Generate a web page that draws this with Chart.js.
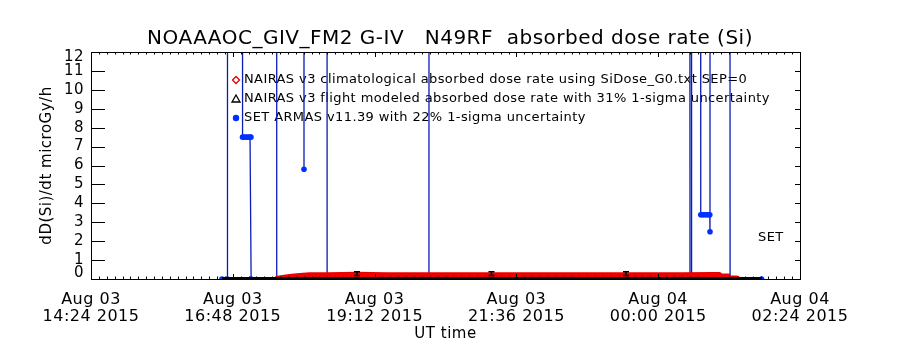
<!DOCTYPE html>
<html><head><meta charset="utf-8">
<script src="https://cdn.jsdelivr.net/npm/chart.js@4/dist/chart.umd.min.js"></script>
<style>html,body{margin:0;padding:0;background:#fff}canvas{display:block}</style>
</head><body>
<canvas id="c" width="900" height="350" style="width:900px;height:350px"></canvas>
<script>
// ---- data (x = minutes after Aug 03 14:24 UT) ----
const TITLE = 'NOAAAOC_GIV_FM2 G-IV   N49RF  absorbed dose rate (Si)';
const Y_TITLE = 'dD(Si)/dt microGy/h';
const X_TITLE = 'UT time';
const X_TICKS = [0, 144, 288, 432, 576, 720];
const X_TICK_DATES = ['Aug 03', 'Aug 03', 'Aug 03', 'Aug 03', 'Aug 04', 'Aug 04'];
const X_TICK_TIMES = ['14:24 2015', '16:48 2015', '19:12 2015', '21:36 2015', '00:00 2015', '02:24 2015'];
const Y_TICKS = [0,1,2,3,4,5,6,7,8,9,10,11,12];
const LEGEND_TEXT = [
  'NAIRAS v3 climatological absorbed dose rate using SiDose_G0.txt SEP=0',
  'NAIRAS v3 flight modeled absorbed dose rate with 31% 1-sigma uncertainty',
  'SET ARMAS v11.39 with 22% 1-sigma uncertainty'
];
const SIDE_LABEL = 'SET';

// SET ARMAS (values above 12 run off the top of the plot)
const ARMAS_T = [133, 138.5, 138.6, 153.8, 153.9, 155.5, 157.5, 159.5, 161.5, 162.4, 162.6, 188.5, 188.6,
                 216.2, 216.3, 216.4, 239.6, 239.8, 343.2, 343.3, 608.0, 608.3, 609.6, 609.9,
                 619.0, 619.2, 621.0, 623.0, 625.0, 627.0, 628.4, 628.6, 628.7, 648.8, 649.0, 681];
const ARMAS_V = [0, 0, 40, 40, 7.5, 7.5, 7.5, 7.5, 7.5, 7.5, 0, 0, 40,
                 40, 5.8, 40, 40, 0, 0, 40, 40, 0, 0, 40,
                 40, 3.4, 3.4, 3.4, 3.4, 3.4, 3.4, 2.5, 40, 40, 0, 0];

// NAIRAS climatological
const CLIM_T = [188, 193, 198, 204, 212, 222, 240, 270, 300, 350, 400, 450, 500, 550, 600, 630, 638, 640, 647, 648, 655, 658];
const CLIM_V = [0.03, 0.07, 0.11, 0.15, 0.18, 0.22, 0.23, 0.25, 0.23, 0.23, 0.23, 0.23, 0.23, 0.23, 0.23, 0.24, 0.24, 0.16, 0.16, 0.06, 0.05, 0.03];

// NAIRAS flight modeled
const FLT_T = [133, 681];
const FLT_V = [0.03, 0.03];
const ERR_T = [270.1, 406.7, 543.3];
const ERR_V = [0.28, 0.28, 0.28];
const ERR_S = [0.1, 0.1, 0.1];

const FONT = 'DejaVu Sans';
const pts = (t, v) => t.map((x, i) => ({x, y: v[i]}));

const framePlugin = {
  id: 'frame',
  beforeDraw(chart) {
    chart.ctx.letterSpacing = '0.5px';
  },
  beforeDatasetsDraw(chart) {
    const {ctx} = chart;
    ctx.save();
    ctx.letterSpacing = '0.4px';
    ctx.font = '13px "' + FONT + '"';
    ctx.fillStyle = '#000';
    ctx.textBaseline = 'middle';
    const lx = 236, ly = [80, 99, 118];
    ctx.lineWidth = 1.3;
    ctx.strokeStyle = '#e00000';
    ctx.beginPath();
    ctx.moveTo(lx, ly[0]-3.5); ctx.lineTo(lx+3.5, ly[0]); ctx.lineTo(lx, ly[0]+3.5); ctx.lineTo(lx-3.5, ly[0]); ctx.closePath(); ctx.stroke();
    ctx.strokeStyle = '#000';
    ctx.beginPath();
    ctx.moveTo(lx, ly[1]-4); ctx.lineTo(lx+4, ly[1]+3); ctx.lineTo(lx-4, ly[1]+3); ctx.closePath(); ctx.stroke();
    ctx.fillStyle = '#0030ff';
    ctx.beginPath(); ctx.arc(lx, ly[2], 3.2, 0, Math.PI*2); ctx.fill();
    ctx.fillStyle = '#000';
    LEGEND_TEXT.forEach((t, i) => ctx.fillText(t, lx + 8, ly[i]));
    ctx.fillText(SIDE_LABEL, 758, 238);
    ctx.restore();
  },
  afterDatasetsDraw(chart) {
    const {ctx, chartArea: a, scales: {x, y}} = chart;
    ctx.save();
    ctx.strokeStyle = '#000';
    ctx.lineWidth = 1.5;
    ERR_T.forEach((t, i) => {
      const px = x.getPixelForValue(t);
      const p1 = y.getPixelForValue(ERR_V[i] - ERR_S[i]);
      const p2 = y.getPixelForValue(ERR_V[i] + ERR_S[i]);
      ctx.beginPath();
      ctx.moveTo(px, p1); ctx.lineTo(px, p2);
      ctx.moveTo(px-3, p1); ctx.lineTo(px+3, p1);
      ctx.moveTo(px-3, p2); ctx.lineTo(px+3, p2);
      ctx.stroke();
    });
    ctx.lineWidth = 1;
    ctx.strokeRect(Math.round(a.left)+0.5, Math.round(a.top)+0.5, Math.round(a.right-a.left), Math.round(a.bottom-a.top));
    ctx.beginPath();
    Y_TICKS.forEach(v => {
      const py = Math.round(y.getPixelForValue(v)) + 0.5;
      ctx.moveTo(a.left, py); ctx.lineTo(a.left + 14, py);
      ctx.moveTo(a.right, py); ctx.lineTo(a.right - 5, py);
    });
    for (let m = X_TICKS[0]; m <= X_TICKS[X_TICKS.length-1]; m += 8) {
      const px = Math.round(x.getPixelForValue(m)) + 0.5;
      const len = X_TICKS.includes(m) ? 5 : 2.5;
      ctx.moveTo(px, a.bottom); ctx.lineTo(px, a.bottom - len);
      ctx.moveTo(px, a.top); ctx.lineTo(px, a.top + len);
    }
    ctx.stroke();
    ctx.restore();
  }
};

new Chart(document.getElementById('c'), {
  type: 'scatter',
  data: {
    datasets: [
      { label: LEGEND_TEXT[1], data: pts(FLT_T, FLT_V), showLine: true, borderColor: '#000', borderWidth: 3, pointRadius: 0 },
      { label: LEGEND_TEXT[0], data: pts(CLIM_T, CLIM_V), showLine: true, borderColor: '#ee0000', borderWidth: 5, pointRadius: 0 },
      { label: LEGEND_TEXT[2], data: pts(ARMAS_T, ARMAS_V), showLine: true, borderColor: '#0a1eb4', borderWidth: 1.3,
        pointRadius: 2.8, pointBackgroundColor: '#0030ff', pointBorderWidth: 0 }
    ]
  },
  options: {
    responsive: false, animation: false, devicePixelRatio: 1,
    layout: { padding: 0 },
    plugins: {
      legend: { display: false }, tooltip: { enabled: false },
      title: { display: true, text: TITLE, color: '#000', font: { family: FONT, size: 20, weight: 'normal', lineHeight: 1.2 }, padding: { top: 26.5, bottom: 1.5 } }
    },
    scales: {
      x: {
        type: 'linear', min: X_TICKS[0], max: X_TICKS[X_TICKS.length-1],
        afterFit: s => { s.height = 71; },
        afterBuildTicks: s => { s.ticks = X_TICKS.map(v => ({ value: v })); },
        grid: { display: false, drawTicks: false },
        border: { display: true, color: '#000', width: 1 },
        ticks: { autoSkip: false, maxRotation: 0, padding: 12.5, color: '#000',
                 font: { family: FONT, size: 16, lineHeight: '17px' },
                 callback: (v, i) => [X_TICK_DATES[i], X_TICK_TIMES[i]] },
        title: { display: true, text: X_TITLE, color: '#000', font: { family: FONT, size: 15 }, padding: { top: 0, bottom: 7 } }
      },
      y: {
        min: 0, max: 12,
        afterFit: s => { s.width = 91; },
        afterBuildTicks: s => { s.ticks = Y_TICKS.map(v => ({ value: v })); },
        grid: { display: false, drawTicks: false },
        border: { display: true, color: '#000', width: 1 },
        ticks: { autoSkip: false, padding: 7, color: '#000', font: { family: FONT, size: 15, lineHeight: '11px' },
                 callback: v => v === 0 ? ['0', ''] : (v === 12 ? ['', '12'] : String(v)) },
        title: { display: true, text: Y_TITLE, color: '#000', font: { family: FONT, size: 15 }, padding: { top: 38, bottom: 0 } }
      },
      yRight: {
        position: 'right', min: 0, max: 12,
        afterFit: s => { s.width = 100; },
        grid: { display: false, drawTicks: false },
        border: { display: false },
        ticks: { display: false }
      }
    }
  },
  plugins: [framePlugin]
});
</script>
</body></html>
